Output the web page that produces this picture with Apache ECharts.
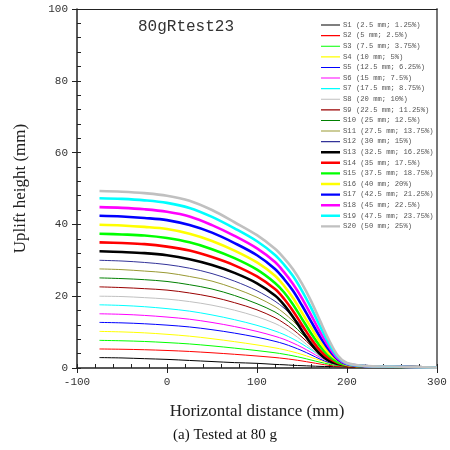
<!DOCTYPE html>
<html><head><meta charset="utf-8">
<script src="https://cdn.jsdelivr.net/npm/echarts@6/dist/echarts.min.js"></script>
<style>html,body{margin:0;padding:0;background:#fff}#c{width:450px;height:450px}</style>
</head><body><div id="c"></div>
<script>
const xValues = [-75, -50, -25, 0, 25, 50, 75, 100, 120, 130, 140, 150, 160, 170, 180, 190, 200, 220, 250, 300];
const seriesNames = ['S1 (2.5 mm; 1.25%)','S2 (5 mm; 2.5%)','S3 (7.5 mm; 3.75%)','S4 (10 mm; 5%)','S5 (12.5 mm; 6.25%)','S6 (15 mm; 7.5%)','S7 (17.5 mm; 8.75%)','S8 (20 mm; 10%)','S9 (22.5 mm; 11.25%)','S10 (25 mm; 12.5%)','S11 (27.5 mm; 13.75%)','S12 (30 mm; 15%)','S13 (32.5 mm; 16.25%)','S14 (35 mm; 17.5%)','S15 (37.5 mm; 18.75%)','S16 (40 mm; 20%)','S17 (42.5 mm; 21.25%)','S18 (45 mm; 22.5%)','S19 (47.5 mm; 23.75%)','S20 (50 mm; 25%)'];
const s1  = [2.9, 2.8, 2.6, 2.4, 2.1, 1.8, 1.5, 1.3, 1.0, 0.9, 0.75, 0.65, 0.55, 0.45, 0.4, 0.35, 0.3, 0.25, 0.2, 0.1];
const s2  = [5.3, 5.22, 5.09, 4.88, 4.61, 4.24, 3.82, 3.34, 2.92, 2.65, 2.33, 1.96, 1.54, 1.11, 0.74, 0.48, 0.32, 0.19, 0.13, 0.05];
const s3  = [7.7, 7.58, 7.39, 7.08, 6.70, 6.16, 5.54, 4.85, 4.24, 3.85, 3.39, 2.85, 2.23, 1.62, 1.08, 0.69, 0.46, 0.27, 0.19, 0.08];
const s4  = [10.2, 10.05, 9.79, 9.38, 8.87, 8.16, 7.34, 6.43, 5.61, 5.10, 4.49, 3.77, 2.96, 2.14, 1.43, 0.92, 0.61, 0.36, 0.26, 0.1];
const s5  = [12.7, 12.57, 12.32, 11.94, 11.43, 10.67, 9.72, 8.57, 7.43, 6.73, 5.84, 4.83, 3.68, 2.48, 1.52, 0.91, 0.57, 0.34, 0.25, 0.1];
const s6  = [15.1, 14.95, 14.65, 14.19, 13.59, 12.68, 11.55, 10.19, 8.83, 8.0, 6.95, 5.74, 4.38, 2.94, 1.81, 1.09, 0.68, 0.41, 0.3, 0.12];
const s7  = [17.6, 17.42, 17.07, 16.54, 15.84, 14.78, 13.46, 11.88, 10.30, 9.33, 8.10, 6.69, 5.10, 3.43, 2.11, 1.27, 0.79, 0.48, 0.35, 0.14];
const s8  = [20.0, 19.9, 19.6, 19.2, 18.5, 17.5, 16.1, 14.3, 12.4, 11.1, 9.5, 7.6, 5.5, 3.2, 1.7, 0.9, 0.56, 0.4, 0.3, 0.1];
const s9  = [22.6, 22.4, 22.1, 21.7, 20.9, 19.8, 18.2, 16.2, 14.0, 12.5, 10.7, 8.6, 6.2, 3.6, 1.9, 1.0, 0.63, 0.45, 0.34, 0.11];
const s10 = [25.1, 24.9, 24.6, 24.1, 23.2, 22.0, 20.2, 17.9, 15.6, 13.9, 11.9, 9.5, 6.9, 4.0, 2.1, 1.1, 0.7, 0.5, 0.38, 0.13];
const s11 = [27.6, 27.4, 27.0, 26.5, 25.5, 24.2, 22.2, 19.7, 17.1, 15.3, 13.1, 10.5, 7.6, 4.4, 2.3, 1.2, 0.77, 0.55, 0.41, 0.14];
const s12 = [30.0, 29.8, 29.4, 28.8, 27.8, 26.3, 24.2, 21.5, 18.6, 16.7, 14.3, 11.4, 8.3, 4.8, 2.6, 1.35, 0.84, 0.6, 0.45, 0.15];
const s13 = [32.5, 32.3, 32.0, 31.4, 30.3, 28.7, 26.5, 23.6, 20.2, 17.6, 14.2, 10.4, 6.8, 3.9, 2.0, 1.1, 0.65, 0.42, 0.33, 0.13];
const s14 = [35.0, 34.8, 34.5, 33.8, 32.7, 30.9, 28.6, 25.5, 22.0, 19.3, 15.9, 12.0, 8.2, 4.9, 2.7, 1.4, 0.74, 0.46, 0.35, 0.14];
const s15 = [37.4, 37.2, 36.9, 36.2, 35.0, 33.1, 30.6, 27.4, 23.7, 21.1, 17.7, 13.7, 9.7, 6.1, 3.4, 1.6, 0.82, 0.49, 0.37, 0.15];
const s16 = [39.9, 39.7, 39.3, 38.7, 37.4, 35.4, 32.7, 29.4, 25.7, 22.9, 19.5, 15.4, 11.3, 7.3, 4.1, 2.2, 0.92, 0.52, 0.36, 0.12];
const s17 = [42.4, 42.2, 41.8, 41.2, 39.8, 37.7, 34.8, 31.4, 27.6, 24.8, 21.5, 17.4, 13.0, 8.7, 5.0, 2.3, 1.06, 0.51, 0.38, 0.13];
const s18 = [44.8, 44.6, 44.2, 43.5, 42.2, 39.8, 36.8, 33.3, 29.5, 26.7, 23.4, 19.4, 14.8, 10.1, 5.9, 2.6, 1.16, 0.54, 0.4, 0.13];
const s19 = [47.3, 47.1, 46.7, 46.0, 44.6, 42.1, 38.9, 35.3, 31.5, 28.8, 25.6, 21.5, 16.8, 11.7, 6.8, 3.0, 1.28, 0.57, 0.38, 0.1];
const s20 = [49.3, 49.1, 48.7, 48.0, 46.6, 44.0, 40.6, 37.0, 33.2, 30.6, 27.5, 23.5, 18.7, 13.2, 7.8, 3.4, 1.4, 0.6, 0.4, 0.1];
const allSeries = [s1,s2,s3,s4,s5,s6,s7,s8,s9,s10,s11,s12,s13,s14,s15,s16,s17,s18,s19,s20];
const colors = ['#000000','#ff0000','#00ff00','#ffff00','#0000ff','#ff00ff','#00ffff','#c0c0c0','#990000','#008000','#999933','#333399',
                '#000000','#ff0000','#00ff00','#ffff00','#0000ff','#ff00ff','#00ffff','#c0c0c0'];
const xTicks = {min: -100, max: 300, interval: 100};
const yTicks = {min: 0, max: 100, interval: 20};

const chart = echarts.init(document.getElementById('c'), null, {renderer: 'canvas'});
const mono = 'Liberation Mono';
const serif = 'Liberation Serif';
const grid = {left: 77, right: 13, top: 9, bottom: 82};
const thinIcon = 'path://M0,0L0.01,0L0.01,0.01L0,0.01ZM0,3.5L19,3.5L19,4.6L0,4.6ZM18.99,7.99L19,7.99L19,8L18.99,8Z';
const thickIcon = 'path://M0,0L0.01,0L0.01,0.01L0,0.01ZM0,2.8L19,2.8L19,5.2L0,5.2ZM18.99,7.99L19,7.99L19,8L18.99,8Z';
const series = allSeries.map((s, i) => ({
  name: seriesNames[i], type: 'line', xAxisIndex: 0, yAxisIndex: 0,
  data: xValues.map((x, j) => [x, s[j]]),
  showSymbol: false, symbol: 'none', smooth: 0.35,
  lineStyle: {color: colors[i], width: i < 12 ? 1 : 2.6},
  itemStyle: {color: colors[i]},
  emphasis: {disabled: true}, animation: false
}));
chart.setOption({
  animation: false,
  color: colors,
  title: {text: '80gRtest23', left: 133, top: 14,
    textStyle: {fontFamily: mono, fontSize: 16, fontWeight: 'normal', color: '#333'}},
  legend: {orient: 'vertical', left: 316, top: 16, itemWidth: 19, itemHeight: 8, itemGap: 2.6,
    data: seriesNames.map((n, i) => ({name: n, icon: i < 12 ? thinIcon : thickIcon,
      itemStyle: {color: colors[i]}})),
    itemStyle: {borderWidth: 0},
    textStyle: {fontFamily: mono, fontSize: 7.2, color: '#555', lineHeight: 8, padding: [0,0,0,-2]}},
  grid: grid,
  xAxis: [
    {type: 'value', position: 'bottom', min: xTicks.min, max: xTicks.max, interval: xTicks.interval,
     name: 'Horizontal distance (mm)', nameLocation: 'middle', nameGap: 35,
     nameTextStyle: {fontFamily: serif, fontSize: 17, color: '#222'},
     axisLine: {show: true, onZero: false, lineStyle: {color: '#222', width: 1.5}},
     axisTick: {show: true, inside: false, length: 5, lineStyle: {color: '#222'}},
     axisLabel: {fontFamily: mono, fontSize: 11, color: '#333', margin: 9},
     splitLine: {show: false}},
    {type: 'value', position: 'bottom', min: xTicks.min, max: xTicks.max, interval: 20,
     axisLine: {show: false, onZero: false}, axisTick: {show: true, inside: true, length: 4, lineStyle: {color: '#222'}},
     axisLabel: {show: false}, splitLine: {show: false}},
    {type: 'value', position: 'top', min: xTicks.min, max: xTicks.max,
     axisLine: {show: true, onZero: false, lineStyle: {color: '#222', width: 1.2}}, axisTick: {show: false},
     axisLabel: {show: false}, splitLine: {show: false}}
  ],
  yAxis: [
    {type: 'value', position: 'left', min: yTicks.min, max: yTicks.max, interval: yTicks.interval,
     name: 'Uplift height (mm)', nameLocation: 'middle', nameGap: 48,
     nameTextStyle: {fontFamily: serif, fontSize: 17, color: '#222'},
     axisLine: {show: true, onZero: false, lineStyle: {color: '#222', width: 1.5}},
     axisTick: {show: true, inside: false, length: 5, lineStyle: {color: '#222'}},
     axisLabel: {fontFamily: mono, fontSize: 11, color: '#333', margin: 9},
     splitLine: {show: false}},
    {type: 'value', position: 'left', min: yTicks.min, max: yTicks.max, interval: 4,
     axisLine: {show: false, onZero: false}, axisTick: {show: true, inside: true, length: 4, lineStyle: {color: '#222'}},
     axisLabel: {show: false}, splitLine: {show: false}},
    {type: 'value', position: 'right', min: yTicks.min, max: yTicks.max,
     axisLine: {show: true, onZero: false, lineStyle: {color: '#777', width: 2}}, axisTick: {show: false},
     axisLabel: {show: false}, splitLine: {show: false}}
  ],
  graphic: [{type: 'text', left: 'center', top: 428,
    style: {text: '(a) Tested at 80 g', fontFamily: serif, fontSize: 15, fill: '#111', textAlign: 'center'}}],
  series: series
});
</script></body></html>
